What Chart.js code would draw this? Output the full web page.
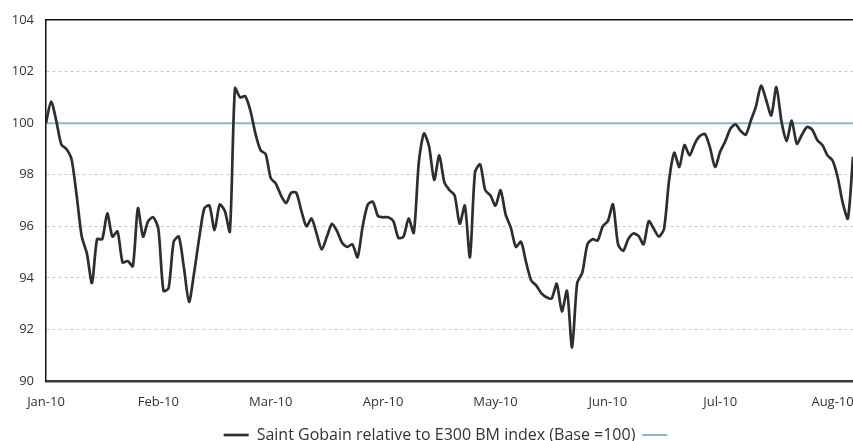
<!DOCTYPE html>
<html>
<head>
<meta charset="utf-8">
<script src="https://cdn.jsdelivr.net/npm/chart.js@4"></script>
<style>
  html, body { margin: 0; padding: 0; background: #fff; }
  #ch { display: block; }
</style>
</head>
<body>
<canvas id="ch" width="853" height="441"></canvas>
<script>
// Saint Gobain relative to E300 BM index, trading days Jan-10 .. mid Aug-10
const monthLabels = ['Jan-10', 'Feb-10', 'Mar-10', 'Apr-10', 'May-10', 'Jun-10', 'Jul-10', 'Aug-10'];
const labelStep = 22; // trading days between axis labels
const yTicks = [90, 92, 94, 96, 98, 100, 102, 104];
const baseValue = 100;
const relValues = [
  100.0, 100.84, 100.1, 99.17, 99.0, 98.6, 97.2, 95.6, 94.95, 93.8,
  95.5, 95.5, 96.5, 95.6, 95.8, 94.6, 94.65, 94.45, 96.7, 95.6,
  96.2, 96.35, 95.9, 93.5, 93.6, 95.4, 95.6, 94.4, 93.07, 94.2,
  95.55, 96.7, 96.8, 95.85, 96.84, 96.6, 95.8, 101.35, 101.0, 101.05,
  100.5, 99.6, 98.95, 98.8, 97.87, 97.65, 97.2, 96.9, 97.3, 97.3,
  96.6, 96.0, 96.3, 95.7, 95.1, 95.6, 96.1, 95.8, 95.35, 95.2,
  95.3, 94.8, 96.0, 96.84, 96.95, 96.4, 96.35, 96.35, 96.2, 95.55,
  95.6, 96.3, 95.74, 98.5, 99.6, 99.1, 97.8, 98.75, 97.7, 97.4,
  97.2, 96.1, 96.8, 94.8, 98.1, 98.4, 97.4, 97.2, 96.8, 97.4,
  96.45, 95.95, 95.2, 95.4, 94.6, 93.9, 93.7, 93.4, 93.25, 93.2,
  93.77, 92.7, 93.5, 91.3, 93.8, 94.2, 95.3, 95.5, 95.45, 96.0,
  96.2, 96.85, 95.3, 95.05, 95.5, 95.72, 95.63, 95.3, 96.2, 95.9,
  95.6, 95.9, 97.8, 98.85, 98.3, 99.15, 98.75, 99.2, 99.5, 99.58,
  99.05, 98.3, 98.9, 99.3, 99.78, 99.95, 99.7, 99.55, 100.1, 100.65,
  101.45, 100.9, 100.3, 101.4, 100.06, 99.3, 100.1, 99.2, 99.55, 99.85,
  99.75, 99.35, 99.15, 98.75, 98.55, 97.9, 96.9, 96.3, 98.7
];

const lastIdx = relValues.length - 1;
const FONT = '"Open Sans", "Noto Sans", sans-serif';
const TXT = '#333333';

new Chart(document.getElementById('ch'), {
  type: 'line',
  data: {
    datasets: [
      {
        label: 'Saint Gobain relative to E300 BM index (Base =100)',
        data: relValues.map((v, i) => ({x: i, y: v})),
        borderColor: '#2e2e2e',
        borderWidth: 2.7,
        pointRadius: 0,
        tension: 0.25,
        pointStyle: 'line'
      },
      {
        label: '',
        data: [{x: 0, y: baseValue}, {x: lastIdx, y: baseValue}],
        borderColor: '#93b4c3',
        borderWidth: 2,
        pointRadius: 0,
        pointStyle: 'line'
      }
    ]
  },
  options: {
    responsive: false,
    animation: false,
    layout: {padding: {top: 20, right: 0, left: 0, bottom: -12}},
    plugins: {
      tooltip: {enabled: false},
      legend: {
        position: 'bottom',
        fullSize: false, // centred under the plot area, like the original
        labels: {
          usePointStyle: true,
          pointStyleWidth: 25,
          padding: 7,
          color: TXT,
          font: {family: FONT, size: 16}
        }
      }
    },
    scales: {
      x: {
        type: 'linear',
        min: 0,
        max: lastIdx,
        afterBuildTicks: s => { s.ticks = monthLabels.map((_, k) => ({value: k * labelStep})); },
        afterFit: s => { s.height = 39; s.paddingLeft = 0; s.paddingRight = 0; },
        ticks: {
          callback: v => monthLabels[Math.round(v / labelStep)] || '',
          color: TXT,
          font: {family: FONT, size: 13},
          padding: 13,
          maxRotation: 0,
          autoSkip: false
        },
        grid: {display: false, drawTicks: false},
        border: {color: '#3a3a3a', width: 2.5}
      },
      xTop: {
        type: 'linear',
        position: 'top',
        min: 0,
        max: lastIdx,
        afterFit: s => { s.paddingLeft = 0; s.paddingRight = 0; },
        ticks: {display: false},
        grid: {display: false, drawTicks: false},
        border: {color: '#111111', width: 1.5}
      },
      y: {
        min: yTicks[0],
        max: yTicks[yTicks.length - 1],
        afterBuildTicks: s => { s.ticks = yTicks.map(v => ({value: v})); },
        afterFit: s => { s.width = 46; },
        ticks: {
          color: TXT,
          font: {family: FONT, size: 13},
          padding: 12
        },
        grid: {
          drawTicks: false,
          color: c => (c.tick && (c.tick.value === yTicks[0] || c.tick.value === yTicks[yTicks.length - 1])) ? 'rgba(0,0,0,0)' : '#c9c9c9',
          lineWidth: 1
        },
        border: {color: '#111111', width: 1.5, dash: [3, 3]}
      }
    }
  }
});
</script>
</body>
</html>
